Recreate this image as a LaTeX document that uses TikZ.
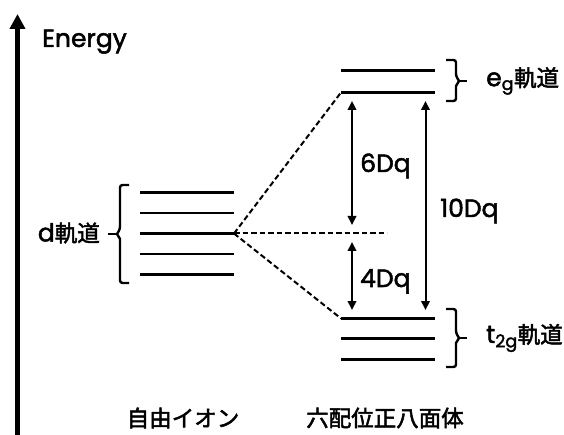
\documentclass[tikz,border=0pt]{standalone}
\usepackage{fontspec}
\setmainfont{Poppins}[FakeBold=2]
\newfontfamily\cjk{Noto Sans CJK JP}[FakeBold=2.2]
\newcommand\jp[1]{{\fontsize{22.5}{26}\selectfont\cjk #1}}
\usetikzlibrary{arrows.meta}
\begin{document}
\begin{tikzpicture}[x=1pt,y=-1pt,
  level/.style={line width=2.5pt},
  dashlink/.style={line width=2pt, dash pattern=on 5.5pt off 3pt},
  gaparrow/.style={line width=2pt,
    {Triangle[length=9pt,width=8.5pt]}-{Triangle[length=9pt,width=8.5pt]},
    shorten <=8.5pt, shorten >=8.5pt},
  bracestyle/.style={line width=2.4pt},
  lbl/.style={font=\fontsize{25}{29}\selectfont, inner sep=0pt},
  jplbl/.style={font=\fontsize{22.5}{26}\selectfont\cjk, inner sep=0pt}]
\useasboundingbox (0,0) rectangle (564,435);

% energy axis
\coordinate (ebot) at (17.5,437);
\coordinate (etop) at (17.5,14);
\draw[line width=4.5pt, -{Triangle[length=15pt,width=15pt]}] (ebot) -- (etop);
\node[lbl, anchor=base west] (energy) at (42,47) {Energy};

% free ion d levels
\foreach \y [count=\i] in {192.5,213,233.5,254,274.5} {
  \coordinate (d\i l) at (140,\y);
  \coordinate (d\i r) at (234,\y);
  \draw[level] (d\i l) -- (d\i r);
}

% eg levels
\coordinate (e1l) at (341,70.5);   \coordinate (e1r) at (435,70.5);
\coordinate (e2l) at (341,92.5);   \coordinate (e2r) at (435,92.5);
\draw[level] (e1l) -- (e1r);
\draw[level] (e2l) -- (e2r);

% t2g levels
\coordinate (t1l) at (341,318.5);  \coordinate (t1r) at (435,318.5);
\coordinate (t2l) at (341,338.5);  \coordinate (t2r) at (435,338.5);
\coordinate (t3l) at (341,359.5);  \coordinate (t3r) at (435,359.5);
\draw[level] (t1l) -- (t1r);
\draw[level] (t2l) -- (t2r);
\draw[level] (t3l) -- (t3r);

% dashed correlation lines
\coordinate (bary) at (387,233.5);
\draw[dashlink] (d3r) -- (e2l);
\draw[dashlink] (d3r) -- (t1l);
\draw[dashlink] (d3r) -- (bary);

% gap arrows
\coordinate (a6top) at (352,92.5);
\coordinate (a6bot) at (352,233.5);
\coordinate (a4bot) at (352,318.5);
\coordinate (a10top) at (425.5,92.5);
\coordinate (a10bot) at (425.5,318.5);
\draw[gaparrow] (a6top) -- (a6bot);
\draw[gaparrow] (a6bot) -- (a4bot);
\draw[gaparrow] (a10top) -- (a10bot);

\node[lbl, anchor=base west] (six) at (360,172) {6Dq};
\node[lbl, anchor=base west] (four) at (360,287) {4Dq};
\node[lbl, anchor=base west] (ten) at (440,217) {10Dq};

% braces
\draw[bracestyle, line join=miter] (129,185) [rounded corners=2.5pt] -- (120,185) -- (120,229) [sharp corners] -- (117,234) -- (120,239) [rounded corners=2.5pt] -- (120,283) -- (129,283);
\draw[bracestyle] (117,234) -- (108,234);
\draw[bracestyle, line join=miter] (446,60) [rounded corners=2.5pt] -- (456,60) -- (456,76) [sharp corners] -- (459,81) -- (456,86) [rounded corners=2.5pt] -- (456,101) -- (446,101);
\draw[bracestyle] (459,81) -- (467,81);
\draw[bracestyle, line join=miter] (446,309) [rounded corners=2.5pt] -- (456,309) -- (456,333) [sharp corners] -- (459,338) -- (456,343) [rounded corners=2.5pt] -- (456,367) -- (446,367);
\draw[bracestyle] (459,338) -- (467,338);

\node[lbl, anchor=east] (dlab) at (100,233) {d\jp{軌道}};
\node[lbl, anchor=west] (eglab) at (486,81) {e\textsubscript{g}\jp{軌道}};
\node[lbl, anchor=west] (tlab) at (486,338) {t\textsubscript{2g}\jp{軌道}};

\node[jplbl] (free) at (183,418) {自由イオン};
\node[jplbl] (octa) at (385,418) {六配位正八面体};
\end{tikzpicture}
\end{document}
